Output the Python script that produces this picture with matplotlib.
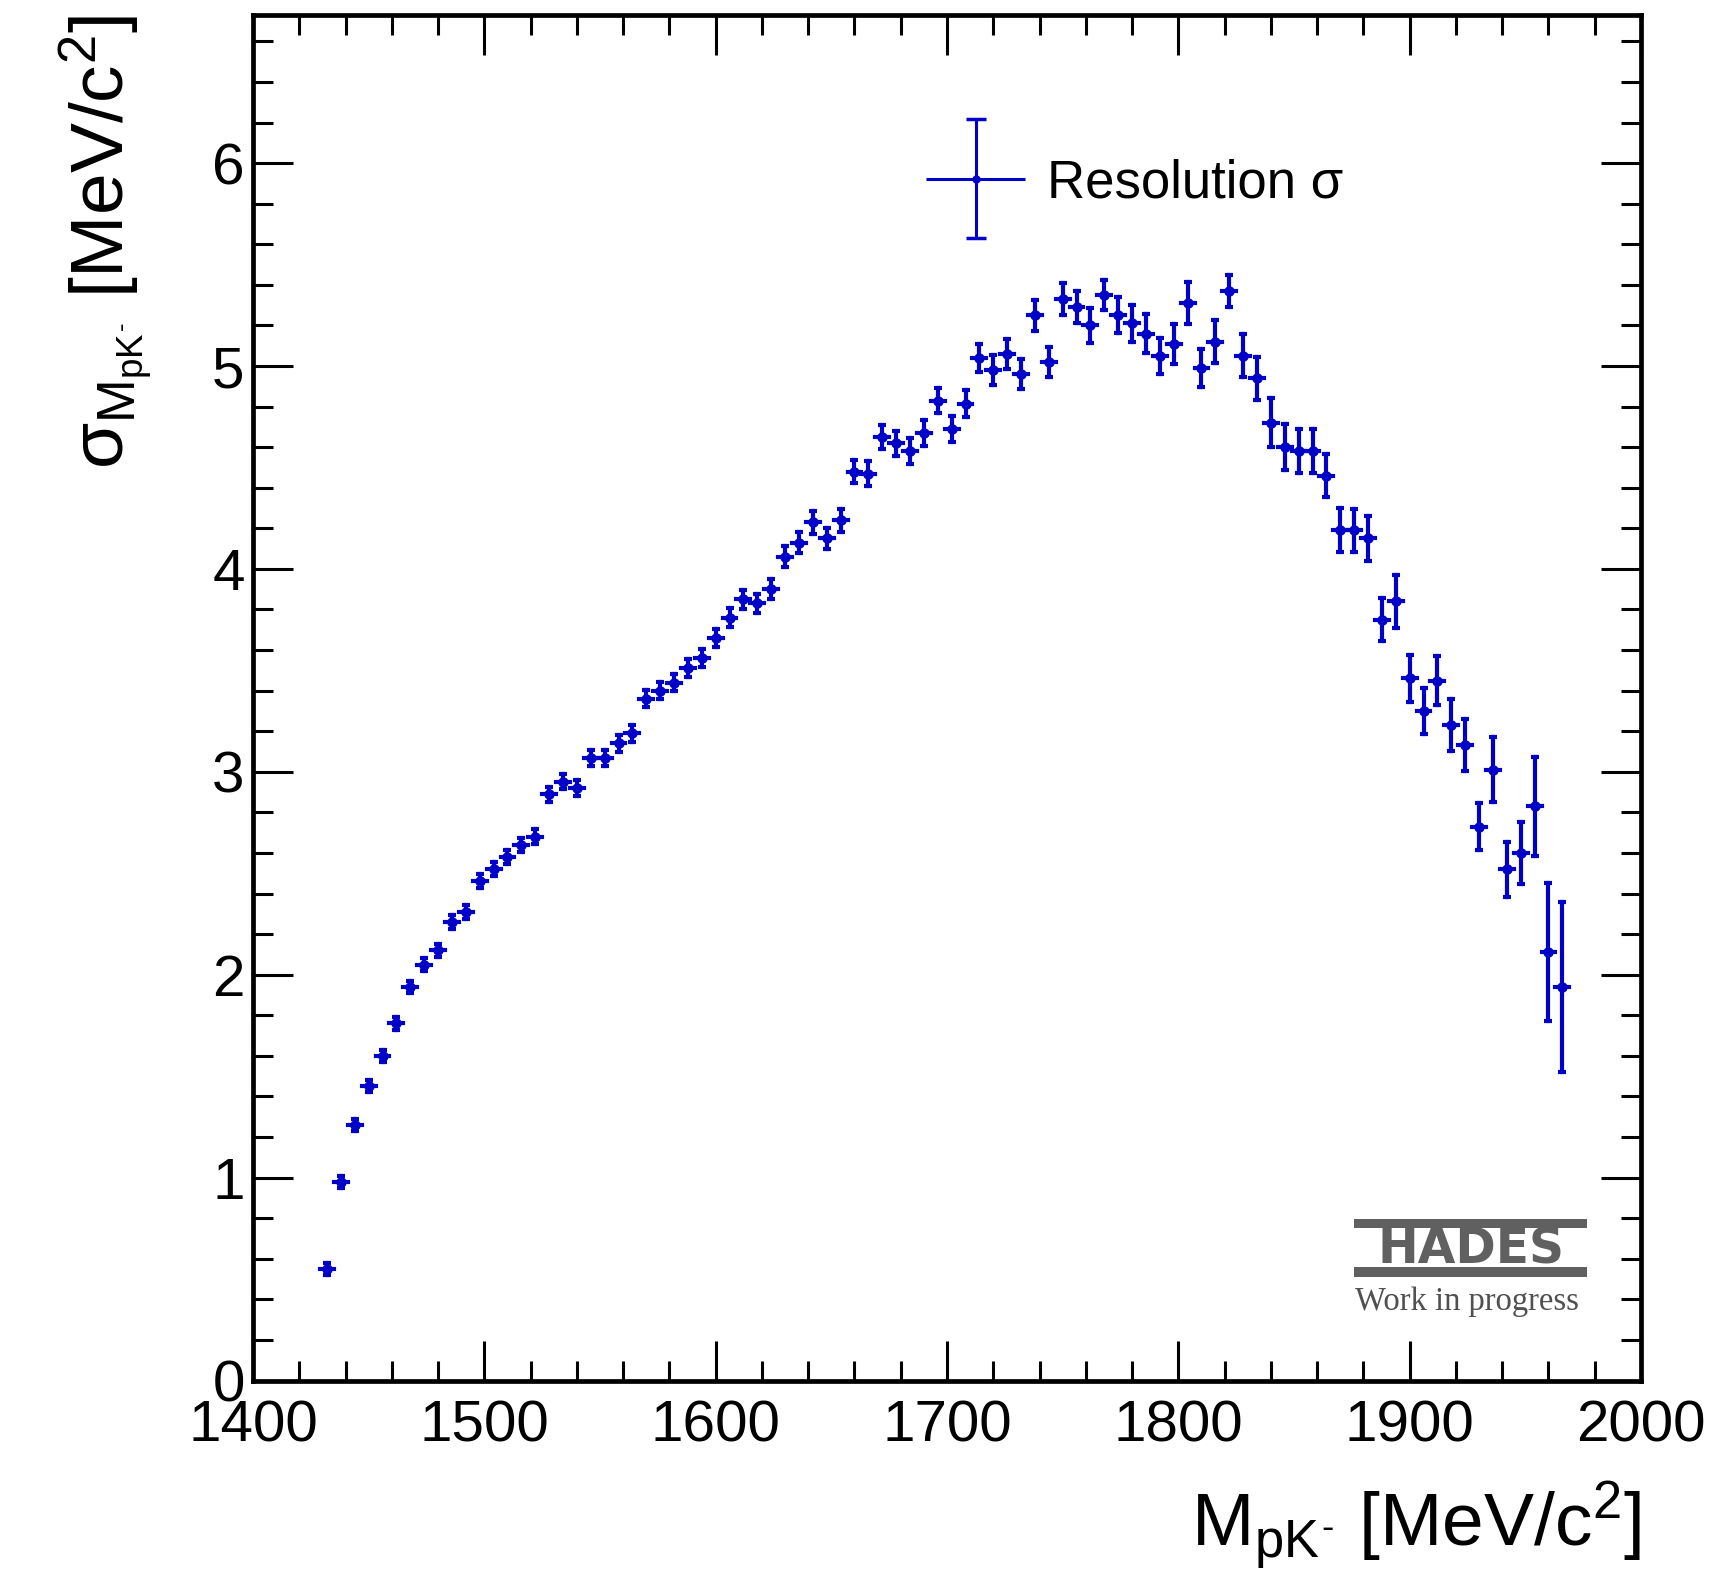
import numpy as np
import matplotlib
matplotlib.use("Agg")
import matplotlib.pyplot as plt
from matplotlib.ticker import MultipleLocator
from matplotlib.container import ErrorbarContainer
from matplotlib.legend_handler import HandlerErrorbar
from matplotlib.lines import Line2D

plt.rcParams['font.family'] = ['Liberation Sans', 'DejaVu Sans']
plt.rcParams['mathtext.fontset'] = 'custom'
plt.rcParams['mathtext.rm'] = 'Liberation Sans'
plt.rcParams['mathtext.it'] = 'Liberation Sans'
plt.rcParams['mathtext.bf'] = 'Liberation Sans:bold'
plt.rcParams['mathtext.sf'] = 'Liberation Sans'

# ---------------- data ----------------
mass = [1432, 1438, 1444, 1450, 1456, 1462, 1468, 1474, 1480, 1486,
        1492, 1498, 1504, 1510, 1516, 1522, 1528, 1534, 1540, 1546,
        1552, 1558, 1564, 1570, 1576, 1582, 1588, 1594, 1600, 1606,
        1612, 1618, 1624, 1630, 1636, 1642, 1648, 1654, 1660, 1666,
        1672, 1678, 1684, 1690, 1696, 1702, 1708, 1714, 1720, 1726,
        1732, 1738, 1744, 1750, 1756, 1762, 1768, 1774, 1780, 1786,
        1792, 1798, 1804, 1810, 1816, 1822, 1828, 1834, 1840, 1846,
        1852, 1858, 1864, 1870, 1876, 1882, 1888, 1894, 1900, 1906,
        1912, 1918, 1924, 1930, 1936, 1942, 1948, 1954, 1960, 1966]

sigma = [0.55, 0.98, 1.26, 1.45, 1.60, 1.76, 1.94, 2.05, 2.12, 2.26,
         2.31, 2.46, 2.52, 2.58, 2.64, 2.68, 2.89, 2.95, 2.92, 3.07,
         3.07, 3.14, 3.19, 3.36, 3.40, 3.44, 3.51, 3.56, 3.66, 3.76,
         3.85, 3.83, 3.90, 4.06, 4.13, 4.23, 4.15, 4.24, 4.48, 4.47,
         4.65, 4.62, 4.58, 4.67, 4.83, 4.69, 4.815, 5.04, 4.98, 5.06,
         4.96, 5.25, 5.02, 5.33, 5.29, 5.20, 5.35, 5.25, 5.21, 5.16,
         5.05, 5.11, 5.31, 4.99, 5.12, 5.37, 5.05, 4.94, 4.72, 4.60,
         4.58, 4.58, 4.46, 4.19, 4.19, 4.15, 3.75, 3.84, 3.46, 3.30,
         3.45, 3.23, 3.13, 2.73, 3.01, 2.52, 2.60, 2.83, 2.11, 1.94]

sigma_err = [0.030, 0.030, 0.030, 0.030, 0.030, 0.031, 0.031, 0.032, 0.032, 0.033,
             0.033, 0.034, 0.034, 0.035, 0.035, 0.036, 0.037, 0.037, 0.038, 0.039,
             0.039, 0.040, 0.041, 0.042, 0.042, 0.043, 0.044, 0.045, 0.045, 0.046,
             0.048, 0.048, 0.048, 0.051, 0.054, 0.056, 0.052, 0.057, 0.058, 0.060,
             0.060, 0.062, 0.063, 0.065, 0.063, 0.066, 0.067, 0.070, 0.072, 0.073,
             0.075, 0.076, 0.076, 0.078, 0.080, 0.087, 0.074, 0.088, 0.093, 0.098,
             0.090, 0.098, 0.104, 0.095, 0.106, 0.080, 0.106, 0.106, 0.120, 0.112,
             0.108, 0.108, 0.108, 0.108, 0.105, 0.112, 0.105, 0.130, 0.115, 0.112,
             0.120, 0.128, 0.128, 0.115, 0.160, 0.135, 0.155, 0.245, 0.340, 0.420]

half_bin = 3.0  # MeV/c^2, half bin width

x_ticks = [1400, 1500, 1600, 1700, 1800, 1900, 2000]
y_ticks = [0, 1, 2, 3, 4, 5, 6]

legend_label = 'Resolution σ'
x_label = r'M$_{pK^{\text{-}}}$ [MeV/c$^{2}$]'
y_label = r'$\sigma_{M_{pK^{\text{-}}}}$ [MeV/c$^{2}$]'

# ---------------- figure ----------------
W, H = 1725, 1586
fig = plt.figure(figsize=(W / 100, H / 100), dpi=100)
ax = fig.add_axes([253 / W, 1 - 1380.5 / H, (1641 - 253) / W, (1380.5 - 15) / H])

blue = '#0000c8'
cont = ax.errorbar(mass, sigma, yerr=sigma_err, xerr=half_bin, fmt='o', color=blue,
                   ms=6.5, elinewidth=3.0, capsize=3.2, capthick=3.0, label=legend_label)
for coll in cont[2]:
    coll.set_capstyle('projecting')

ax.set_xlim(1400, 2000)
ax.set_ylim(0, 6.73)
ax.set_xticks(x_ticks)
ax.set_yticks(y_ticks)
ax.xaxis.set_minor_locator(MultipleLocator(20))
ax.yaxis.set_minor_locator(MultipleLocator(0.2))
ax.tick_params(which='both', direction='in', top=True, right=True, width=2.2, color='black')
ax.tick_params(which='major', length=28.8)
ax.tick_params(which='minor', length=14.4)
ax.tick_params(axis='x', which='major', labelsize=42, pad=14)
ax.tick_params(axis='y', which='major', labelsize=42, pad=6)
for sp in ax.spines.values():
    sp.set_linewidth(3.4)

# axis titles (ROOT style: right / top aligned)
fig.text(1641 / W, 1 - 1547 / H, x_label, fontsize=54, ha='right', va='baseline')
fig.text(125 / W, 1 - 15 / H, y_label, fontsize=54, rotation=90,
         rotation_mode='anchor', ha='right', va='baseline')

# legend
leg = ax.legend(handles=[cont], labels=[legend_label],
                handler_map={ErrorbarContainer: HandlerErrorbar(xerr_size=0.94, yerr_size=1.12)},
                loc='center left', bbox_to_anchor=(926 / W, 1 - 183 / H),
                bbox_transform=fig.transFigure, frameon=False, fontsize=38,
                borderpad=0, borderaxespad=0, handlelength=1.88, handletextpad=0.42)

# ROOT draws no caps on horizontal error bars
for ln in leg.findobj(Line2D):
    if ln.get_marker() == '|':
        ln.set_visible(False)
    elif ln.get_marker() == '_':
        ln.set_markersize(14)
        ln.set_markeredgewidth(2.5)
    elif ln.get_marker() == 'o':
        ln.set_markersize(5)
for coll in leg.get_children()[0].findobj(matplotlib.collections.LineCollection):
    coll.set_linewidth(2.2)
for ln in cont[1]:
    if ln.get_marker() == '|':
        ln.set_visible(False)

# HADES "Work in progress" tag
gray = '#606060'
fig.patches.append(plt.Rectangle((1354 / W, 1 - 1228 / H), (1587 - 1354) / W, 9 / H,
                                 transform=fig.transFigure, color=gray, lw=0))
fig.patches.append(plt.Rectangle((1354 / W, 1 - 1277 / H), (1587 - 1354) / W, 10 / H,
                                 transform=fig.transFigure, color=gray, lw=0))
fig.text((1354 + 1587) / 2 / W, 1 - 1263 / H, 'HADES', fontsize=35, fontweight='bold',
         family='DejaVu Sans', color=gray, ha='center', va='baseline')
fig.text(1355 / W, 1 - 1310 / H, 'Work in progress', fontsize=23.5,
         family='Liberation Serif', color='#505050', ha='left', va='baseline')

fig.savefig('out.png', dpi=100, facecolor='white')
